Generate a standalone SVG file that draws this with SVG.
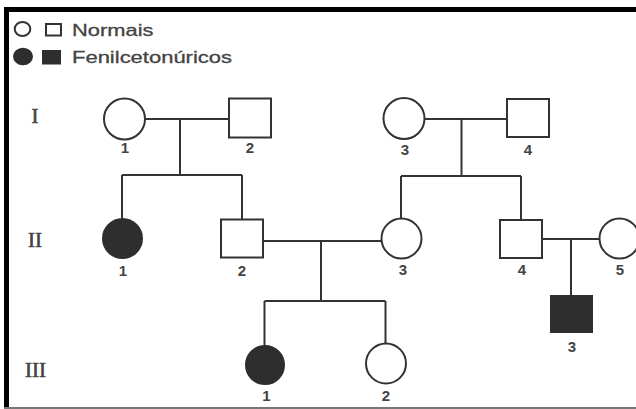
<svg xmlns="http://www.w3.org/2000/svg" width="636" height="409" viewBox="0 0 636 409">
<style>
.ln{stroke:#333;stroke-width:2;fill:none}
.open{fill:#fff;stroke:#333;stroke-width:2}
.fill{fill:#2e2e2e;stroke:#2e2e2e;stroke-width:2}
.num{font-family:"Liberation Sans",Arial,sans-serif;font-size:15px;font-weight:bold;fill:#444;text-anchor:middle}
.gen{font-family:"Liberation Serif","Times New Roman",serif;font-size:21px;fill:#444;stroke:#444;stroke-width:0.6;text-anchor:middle}
.leg{font-family:"Liberation Sans",Arial,sans-serif;font-size:16.5px;fill:#444;stroke:#444;stroke-width:0.3}
</style>
<rect x="0" y="0" width="636" height="409" fill="#fff"/>
<g id="frame">
<rect x="4" y="7" width="632" height="5" fill="#000"/>
<rect x="4" y="7" width="5" height="402" fill="#000"/>
<rect x="4" y="407" width="632" height="2" fill="#777"/>
</g>
<g id="legend">
<ellipse class="open" cx="22.5" cy="29" rx="7.8" ry="7"/>
<rect class="open" x="46" y="24" width="15" height="11.5"/>
<text class="leg" x="72" y="35.7" textLength="81.5" lengthAdjust="spacingAndGlyphs">Normais</text>
<ellipse class="fill" cx="23" cy="56.5" rx="9" ry="7.8"/>
<rect class="fill" x="43" y="51" width="17" height="12.5"/>
<text class="leg" x="72" y="63.3" textLength="160" lengthAdjust="spacingAndGlyphs">Fenilcetonúricos</text>
</g>
<g id="gen-labels">
<text class="gen" x="35" y="122.7">I</text>
<text class="gen" x="35" y="246.7">II</text>
<text class="gen" x="35.5" y="376.7">III</text>
</g>
<g id="connectors">
<path class="ln" d="M145 119 H229"/>
<path class="ln" d="M180 119 V175"/>
<path class="ln" d="M122 175 H242"/>
<path class="ln" d="M122 175 V218"/>
<path class="ln" d="M242 175 V219"/>
<path class="ln" d="M425 119 H507"/>
<path class="ln" d="M461.5 119 V176"/>
<path class="ln" d="M401 176 H521"/>
<path class="ln" d="M401 176 V218"/>
<path class="ln" d="M521 176 V220"/>
<path class="ln" d="M263 241 H382"/>
<path class="ln" d="M321 241 V301"/>
<path class="ln" d="M264.5 301 H385.5"/>
<path class="ln" d="M264.5 301 V345"/>
<path class="ln" d="M385.5 301 V343"/>
<path class="ln" d="M542 239 H599"/>
<path class="ln" d="M571 239 V295"/>
</g>
<g id="I-1"><circle class="open" cx="124.5" cy="119" r="20.5"/><text class="num" x="125" y="153">1</text></g>
<g id="I-2"><rect class="open" x="229" y="98.5" width="42" height="39"/><text class="num" x="250" y="153">2</text></g>
<g id="I-3"><circle class="open" cx="404" cy="118.5" r="20.5"/><text class="num" x="405" y="155">3</text></g>
<g id="I-4"><rect class="open" x="507" y="99" width="42" height="38"/><text class="num" x="528" y="155">4</text></g>
<g id="II-1"><circle class="fill" cx="122.5" cy="238.5" r="19.5"/><text class="num" x="123" y="276">1</text></g>
<g id="II-2"><rect class="open" x="221" y="219.5" width="42" height="38"/><text class="num" x="242" y="276">2</text></g>
<g id="II-3"><circle class="open" cx="401.5" cy="238.5" r="20"/><text class="num" x="403" y="275">3</text></g>
<g id="II-4"><rect class="open" x="500" y="220" width="42" height="38"/><text class="num" x="522" y="275">4</text></g>
<g id="II-5"><circle class="open" cx="619.5" cy="238.5" r="20"/><text class="num" x="620" y="275">5</text></g>
<g id="III-1"><circle class="fill" cx="265" cy="365" r="19"/><text class="num" x="266.5" y="401">1</text></g>
<g id="III-2"><circle class="open" cx="386" cy="363.5" r="20"/><text class="num" x="386" y="401">2</text></g>
<g id="III-3"><rect class="fill" x="551" y="296" width="41" height="36"/><text class="num" x="572" y="351.5">3</text></g>
</svg>
